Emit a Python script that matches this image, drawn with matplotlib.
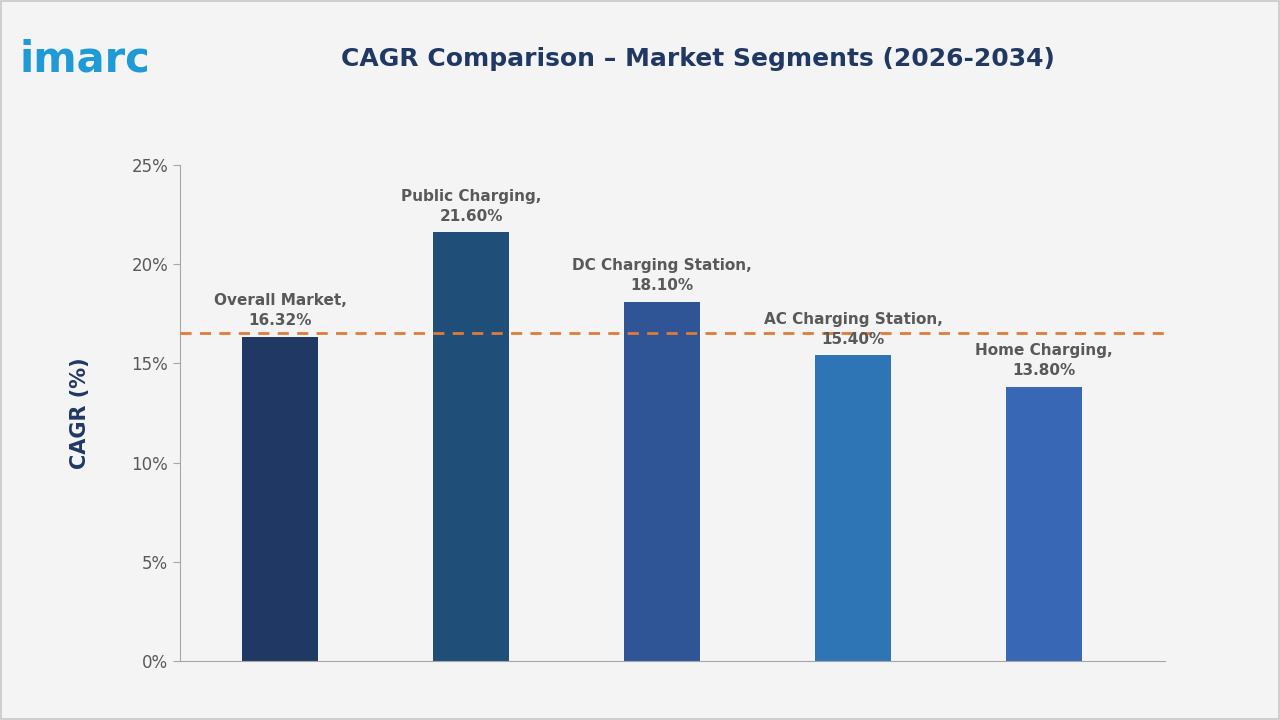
import matplotlib.pyplot as plt

categories = ['Overall Market', 'Public Charging', 'DC Charging Station', 'AC Charging Station', 'Home Charging']
cagr = [16.32, 21.60, 18.10, 15.40, 13.80]
bar_colors = ['#203864', '#1f4e79', '#2f5597', '#2e75b6', '#3767b5']
ref_line = 16.55
yticks = [0, 5, 10, 15, 20, 25]

fig = plt.figure(figsize=(12.8, 7.2), dpi=100)
fig.patch.set_facecolor('#f4f4f4')
# outer border
fig.add_artist(plt.Rectangle((0.001, 0.001), 0.998, 0.997, transform=fig.transFigure,
                             fill=False, edgecolor='#c8c8c8', lw=1.2))

ax = fig.add_axes([180 / 1280, 1 - 661 / 720, 985 / 1280, 496 / 720])
ax.set_facecolor('#f4f4f4')
x = range(len(categories))
ax.bar(x, cagr, width=0.4, color=bar_colors, zorder=2)
ax.axhline(ref_line, color='#e07b39', lw=2, ls=(0, (4, 3)), zorder=3)

for i, v in enumerate(cagr):
    ax.text(i, v + 0.45, f'{categories[i]},\n{v:.2f}%', ha='center', va='bottom',
            fontsize=11, color='#595959', fontweight='semibold', linespacing=1.4)

ax.set_xlim(-0.524, 4.634)
ax.set_ylim(0, 25)
ax.set_yticks(yticks)
ax.set_yticklabels([f'{t}%' for t in yticks], fontsize=12, color='#595959')
ax.set_xticks([])
for s in ['top', 'right']:
    ax.spines[s].set_visible(False)
ax.spines['left'].set_color('#a6a6a6')
ax.spines['bottom'].set_color('#a6a6a6')
ax.tick_params(axis='y', length=5, color='#a6a6a6')
ax.set_ylabel('CAGR (%)', fontsize=15, fontweight='bold', color='#203864', labelpad=30)

fig.text(0.545, 0.918, 'CAGR Comparison – Market Segments (2026-2034)', ha='center', va='center',
         fontsize=18, fontweight='bold', color='#203864')
fig.text(0.015, 0.918, 'imarc', ha='left', va='center', fontsize=30, fontweight='semibold',
         color='#1e9ad6')

fig.savefig('out.png', dpi=100, facecolor=fig.get_facecolor())
